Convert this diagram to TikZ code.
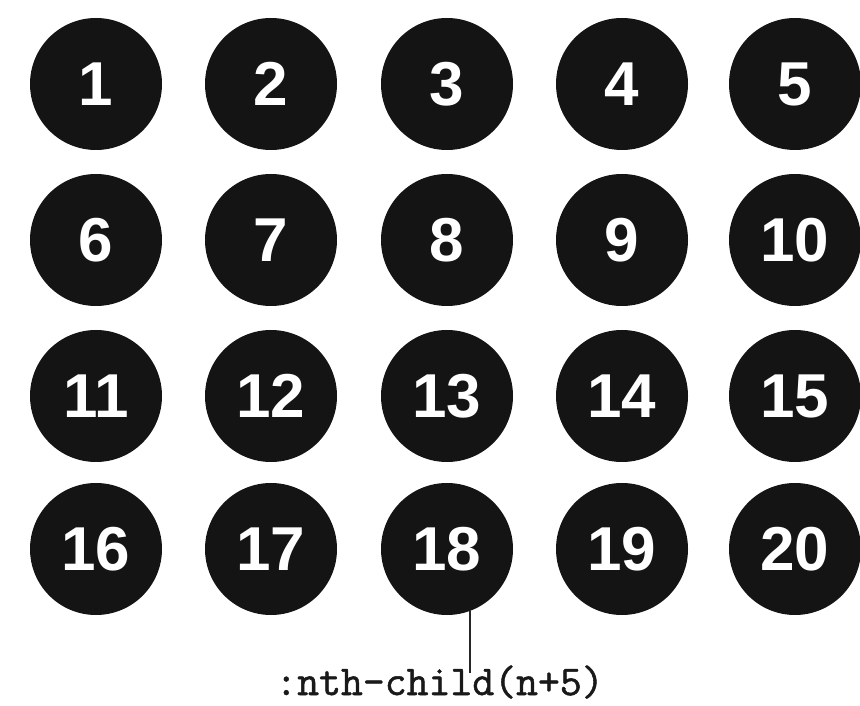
\documentclass[tikz,border=0pt]{standalone}
\usepackage{fontspec}
\setmainfont{Liberation Sans}
\newfontfamily\selfont[FakeBold=1.2]{Latin Modern Mono}
\tikzset{
  ball/.style={circle, fill=black!92, draw=none, minimum size=132pt, inner sep=0pt,
    text=white, font=\fontsize{62}{62}\selectfont\bfseries},
  pointer/.style={draw=black!85, line width=2.2pt},
  sel/.style={font=\fontsize{42.5}{42.5}\selectfont\selfont, text=black!90, inner sep=0pt, anchor=base}
}
\begin{document}
\begin{tikzpicture}[x=1pt,y=1pt]
\useasboundingbox (0,0) rectangle (860,705);
\fill[white] (0,0) rectangle (860,705);
\foreach \r/\yy in {0/621,1/465,2/309,3/156}{
  \foreach \c/\xx in {1/96,2/271,3/447,4/622,5/795}{
    \pgfmathtruncatemacro{\n}{\r*5+\c}
    \node[ball] (c\n) at (\xx,\yy) {\n};
  }
}
\node[sel] (lbl) at (439.5,10) {:nth-child(n+5)};
\coordinate (tip) at (470,32);
\draw[pointer] (c18.-70) -- (c18.-70 |- tip);
\end{tikzpicture}
\end{document}
